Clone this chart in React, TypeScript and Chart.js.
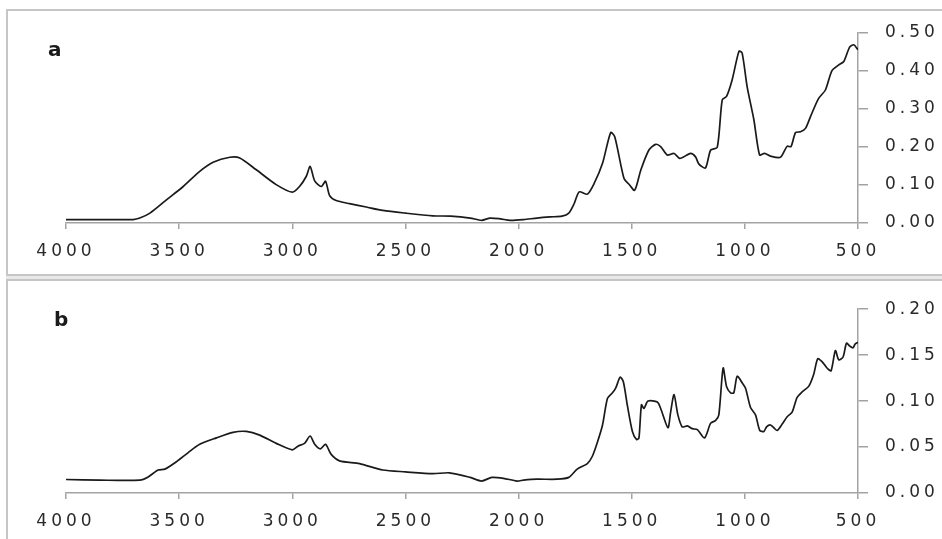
import { useEffect, useRef } from 'react';
import Chart from 'chart.js/auto';

// panel a: wavenumber (cm-1) / absorbance
const aWavenumber = [
  4000, 3850, 3703, 3674, 3629, 3556, 3482, 3409, 3350, 3276, 3232, 3159, 3071, 3000,
  2968, 2938, 2921, 2901, 2872, 2853, 2835, 2806, 2747, 2673, 2600, 2500, 2379, 2300,
  2214, 2163, 2126, 2081, 2037, 1978, 1919, 1860, 1808, 1778, 1755, 1732, 1696, 1666,
  1629, 1593, 1575, 1534, 1512, 1487, 1460, 1424, 1394, 1372, 1343, 1313, 1287, 1240,
  1218, 1203, 1174, 1151, 1122, 1100, 1081, 1056, 1026, 1012, 990, 960, 935, 913, 887,
  843, 813, 796, 776, 754, 732, 710, 674, 644, 615, 585, 563, 537, 519, 500,
];
const aAbsorbance = [
  0.009, 0.009, 0.009, 0.013, 0.026, 0.061, 0.096, 0.136, 0.16, 0.173, 0.171, 0.14, 0.101, 0.081,
  0.096, 0.123, 0.149, 0.111, 0.096, 0.11, 0.072, 0.059, 0.051, 0.042, 0.033, 0.026, 0.019, 0.018,
  0.013, 0.007, 0.013, 0.011, 0.007, 0.009, 0.013, 0.016, 0.018, 0.026, 0.05, 0.082, 0.076, 0.104,
  0.157, 0.238, 0.227, 0.117, 0.102, 0.086, 0.139, 0.192, 0.207, 0.201, 0.179, 0.183, 0.17, 0.183,
  0.174, 0.155, 0.145, 0.192, 0.199, 0.324, 0.333, 0.377, 0.452, 0.447, 0.359, 0.271, 0.179, 0.183, 0.176,
  0.173, 0.202, 0.201, 0.238, 0.24, 0.249, 0.28, 0.328, 0.35, 0.401, 0.416, 0.425, 0.463, 0.469, 0.456,
];

// panel b
const bWavenumber = [
  4000, 3850, 3674, 3637, 3593, 3563, 3512, 3460, 3409, 3335, 3262, 3203, 3144, 3071, 3000,
  2975, 2946, 2921, 2901, 2876, 2853, 2828, 2791, 2703, 2600, 2500, 2379, 2306, 2214, 2163,
  2118, 2067, 2007, 1978, 1919, 1830, 1778, 1741, 1696, 1674, 1652, 1629, 1607, 1585, 1571,
  1551, 1537, 1519, 1497, 1478, 1468, 1457, 1446, 1428, 1387, 1372, 1340, 1328, 1313, 1296,
  1277, 1254, 1232, 1210, 1178, 1151, 1129, 1115, 1096, 1081, 1063, 1049, 1034, 1012, 997,
  975, 953, 934, 916, 904, 887, 872, 857, 835, 813, 791, 769, 747, 718, 696, 678, 659, 637,
  619, 600, 585, 566, 551, 537, 522, 513, 500,
];
const bAbsorbance = [
  0.0147, 0.014, 0.014, 0.0175, 0.025, 0.026, 0.034, 0.044, 0.053, 0.06, 0.066, 0.067, 0.063, 0.054, 0.047,
  0.051, 0.054, 0.062, 0.053, 0.048, 0.053, 0.042, 0.035, 0.032, 0.025, 0.023, 0.021, 0.022, 0.017, 0.013,
  0.017, 0.016, 0.013, 0.014, 0.015, 0.015, 0.017, 0.026, 0.032, 0.04, 0.055, 0.074, 0.103, 0.109, 0.114,
  0.126, 0.121, 0.095, 0.067, 0.058, 0.06, 0.096, 0.092, 0.1, 0.099, 0.092, 0.071, 0.088, 0.107, 0.085,
  0.072, 0.073, 0.07, 0.069, 0.06, 0.076, 0.079, 0.085, 0.136, 0.116, 0.109, 0.109, 0.127, 0.12, 0.114,
  0.093, 0.085, 0.068, 0.067, 0.072, 0.074, 0.071, 0.068, 0.075, 0.083, 0.088, 0.104, 0.11, 0.116, 0.129, 0.146, 0.143, 0.136,
  0.133, 0.155, 0.145, 0.148, 0.163, 0.16, 0.158, 0.162, 0.164,
];

const xTicks = [4000, 3500, 3000, 2500, 2000, 1500, 1000, 500];

const axisGray = '#a3a3a3';
const tickFont = { family: "'DejaVu Sans', sans-serif", size: 17 };

// canvas text has no letter-spacing option in chart.js, so set it on the context
const spacing = {
  id: 'spacing',
  beforeUpdate(chart: Chart) { (chart.ctx as any).letterSpacing = '4px'; },
  beforeDraw(chart: Chart) { (chart.ctx as any).letterSpacing = '4px'; },
};

interface PanelProps {
  wn: number[];
  abs: number[];
  yMax: number;
  yStep: number;
  width: number;
  height: number;
  padTop: number;
  padBottom: number;
}

function Panel({ wn, abs, yMax, yStep, width, height, padTop, padBottom }: PanelProps) {
  const canvasRef = useRef<HTMLCanvasElement>(null);

  useEffect(() => {
    if (!canvasRef.current) return;
    const chart = new Chart(canvasRef.current, {
      type: 'line',
      data: {
        datasets: [{
          data: wn.map((w, i) => ({ x: w, y: abs[i] })),
          borderColor: '#1a1a1a',
          borderWidth: 1.7,
          pointRadius: 0,
          tension: 0.25,
          fill: false,
        }],
      },
      options: {
        animation: false,
        responsive: false,
        layout: { padding: { left: 66, right: 0, top: padTop, bottom: padBottom } },
        plugins: { legend: { display: false }, tooltip: { enabled: false } },
        scales: {
          x: {
            type: 'linear',
            reverse: true,
            min: 500,
            max: 4000,
            afterBuildTicks: (s: any) => { s.ticks = xTicks.map((v) => ({ value: v })); },
            ticks: {
              font: tickFont,
              color: '#2a2a2a',
              padding: 12,
              maxRotation: 0,
              autoSkip: false,
              callback: (v: any) => String(v),
            },
            grid: { drawOnChartArea: false, tickLength: 6, color: axisGray, lineWidth: 1.5 },
            border: { color: axisGray, width: 1.5 },
            afterFit: (s: any) => { s.height = 40; },
          },
          y: {
            position: 'right',
            min: 0,
            max: yMax,
            ticks: {
              stepSize: yStep,
              font: tickFont,
              color: '#2a2a2a',
              padding: 17,
              callback: (v: any) => Number(v).toFixed(2),
            },
            grid: { drawOnChartArea: false, tickLength: 10, color: axisGray, lineWidth: 1.5 },
            border: { color: axisGray, width: 1.5 },
            afterFit: (s: any) => { s.width = 84; },
          },
        },
      },
      plugins: [spacing],
    });
    return () => chart.destroy();
  }, [wn, abs, yMax, yStep, padTop, padBottom]);

  return <canvas ref={canvasRef} width={width} height={height} style={{ width, height, display: 'block' }} />;
}

const line = '#c6c6c6';

export default function App() {
  const labelStyle: React.CSSProperties = {
    position: 'absolute',
    fontFamily: "'DejaVu Sans', sans-serif",
    fontWeight: 'bold',
    fontSize: 20,
    lineHeight: '20px',
    color: '#1a1a1a',
  };
  return (
    <div style={{ position: 'fixed', left: 0, top: 0, width: 942, height: 539, background: '#fff', overflow: 'hidden' }}>
      {/* frame lines */}
      <div style={{ position: 'absolute', left: 6, top: 9, width: 936, height: 2, background: line }} />
      <div style={{ position: 'absolute', left: 6, top: 9, width: 2, height: 530, background: line }} />
      <div style={{ position: 'absolute', left: 6, top: 274, width: 936, height: 7, background: '#e8e8e8', borderTop: `2px solid ${line}`, borderBottom: `2px solid ${line}`, boxSizing: 'border-box' }} />

      <div style={{ position: 'absolute', left: 0, top: 0 }}>
        <Panel wn={aWavenumber} abs={aAbsorbance} yMax={0.5} yStep={0.1} width={942} height={273} padTop={33} padBottom={10} />
      </div>
      <div style={{ position: 'absolute', left: 0, top: 282 }}>
        <Panel wn={bWavenumber} abs={bAbsorbance} yMax={0.2} yStep={0.05} width={942} height={257} padTop={21} padBottom={6} />
      </div>

      <div style={{ ...labelStyle, left: 48, top: 39 }}>a</div>
      <div style={{ ...labelStyle, left: 54, top: 309 }}>b</div>
    </div>
  );
}
